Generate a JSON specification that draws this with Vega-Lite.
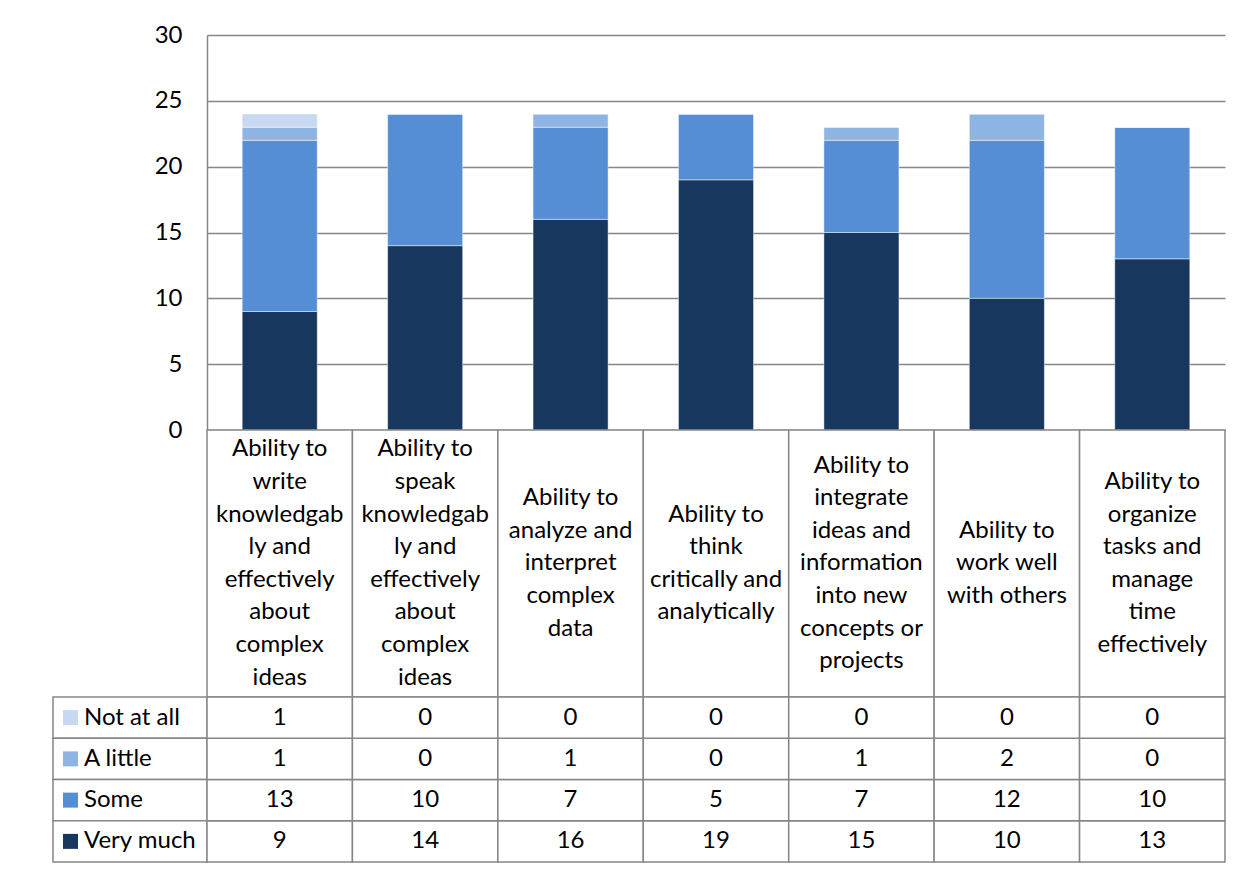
{
  "$schema": "https://vega.github.io/schema/vega-lite/v6.json",
  "autosize": {"type": "pad"},
  "padding": {"left": 52, "top": 23, "right": 26, "bottom": 11},
  "background": "#ffffff",
  "config": {
    "view": {"stroke": null},
    "font": "Lato",
    "text": {"font": "Lato", "fontSize": 24, "color": "#000000"}
  },
  "datasets": {
    "responses": [
      {"skill": "write", "level": "Very much", "score": 4, "count": 9},
      {"skill": "write", "level": "Some", "score": 3, "count": 13},
      {"skill": "write", "level": "A little", "score": 2, "count": 1},
      {"skill": "write", "level": "Not at all", "score": 1, "count": 1},
      {"skill": "speak", "level": "Very much", "score": 4, "count": 14},
      {"skill": "speak", "level": "Some", "score": 3, "count": 10},
      {"skill": "speak", "level": "A little", "score": 2, "count": 0},
      {"skill": "speak", "level": "Not at all", "score": 1, "count": 0},
      {"skill": "analyze", "level": "Very much", "score": 4, "count": 16},
      {"skill": "analyze", "level": "Some", "score": 3, "count": 7},
      {"skill": "analyze", "level": "A little", "score": 2, "count": 1},
      {"skill": "analyze", "level": "Not at all", "score": 1, "count": 0},
      {"skill": "think", "level": "Very much", "score": 4, "count": 19},
      {"skill": "think", "level": "Some", "score": 3, "count": 5},
      {"skill": "think", "level": "A little", "score": 2, "count": 0},
      {"skill": "think", "level": "Not at all", "score": 1, "count": 0},
      {"skill": "integrate", "level": "Very much", "score": 4, "count": 15},
      {"skill": "integrate", "level": "Some", "score": 3, "count": 7},
      {"skill": "integrate", "level": "A little", "score": 2, "count": 1},
      {"skill": "integrate", "level": "Not at all", "score": 1, "count": 0},
      {"skill": "teamwork", "level": "Very much", "score": 4, "count": 10},
      {"skill": "teamwork", "level": "Some", "score": 3, "count": 12},
      {"skill": "teamwork", "level": "A little", "score": 2, "count": 2},
      {"skill": "teamwork", "level": "Not at all", "score": 1, "count": 0},
      {"skill": "organize", "level": "Very much", "score": 4, "count": 13},
      {"skill": "organize", "level": "Some", "score": 3, "count": 10},
      {"skill": "organize", "level": "A little", "score": 2, "count": 0},
      {"skill": "organize", "level": "Not at all", "score": 1, "count": 0}
    ],
    "skills": [
      {"skill": "write", "label": "Ability to\nwrite\nknowledgab\nly and\neffectively\nabout\ncomplex\nideas"},
      {"skill": "speak", "label": "Ability to\nspeak\nknowledgab\nly and\neffectively\nabout\ncomplex\nideas"},
      {"skill": "analyze", "label": "Ability to\nanalyze and\ninterpret\ncomplex\ndata"},
      {"skill": "think", "label": "Ability to\nthink\ncritically and\nanalytically"},
      {"skill": "integrate", "label": "Ability to\nintegrate\nideas and\ninformation\ninto new\nconcepts or\nprojects"},
      {"skill": "teamwork", "label": "Ability to\nwork well\nwith others"},
      {"skill": "organize", "label": "Ability to\norganize\ntasks and\nmanage\ntime\neffectively"}
    ],
    "levels": [
      {"level": "Not at all"},
      {"level": "A little"},
      {"level": "Some"},
      {"level": "Very much"}
    ]
  },
  "columns": 2,
  "spacing": 0,
  "bounds": "flush",
  "concat": [
    {
      "width": 154,
      "height": 395,
      "data": {"values": []},
      "mark": "point"
    },
    {
      "width": 1018,
      "height": 395,
      "data": {"name": "responses"},
      "mark": {"type": "bar", "stroke": "#ffffff", "strokeWidth": 0.75, "strokeOpacity": 0.6},
      "encoding": {
        "x": {
          "field": "skill",
          "type": "nominal",
          "sort": null,
          "scale": {"paddingInner": 0.484, "paddingOuter": 0.242},
          "axis": null
        },
        "y": {
          "field": "count",
          "type": "quantitative",
          "stack": "zero",
          "scale": {"domain": [0, 30], "nice": false},
          "axis": {
            "title": null,
            "values": [0, 5, 10, 15, 20, 25, 30],
            "ticks": false,
            "labelPadding": 25,
            "labelFont": "Lato",
            "labelFontSize": 24,
            "labelColor": "#000000",
            "domainColor": "#868686",
            "domainWidth": 1.5,
            "gridColor": "#868686",
            "gridWidth": 1.5,
            "grid": true
          }
        },
        "color": {
          "field": "level",
          "type": "nominal",
          "scale": {
            "domain": ["Not at all", "A little", "Some", "Very much"],
            "range": ["#C6D9F1", "#8EB4E3", "#558ED5", "#17375E"]
          },
          "legend": null
        },
        "order": {"field": "score", "sort": "descending"}
      }
    },
    {
      "width": 154,
      "height": 267,
      "data": {"values": []},
      "mark": "point"
    },
    {
      "width": 1018,
      "height": 267,
      "data": {"name": "skills"},
      "encoding": {
        "x": {
          "field": "skill",
          "type": "nominal",
          "sort": null,
          "scale": {"paddingInner": 0, "paddingOuter": 0},
          "axis": null
        }
      },
      "layer": [
        {
          "mark": {"type": "rect", "fill": "#ffffff", "stroke": "#868686", "strokeWidth": 1.5},
          "encoding": {
            "y": {"value": 0},
            "y2": {"value": "height"}
          }
        },
        {
          "transform": [{"filter": {"field": "skill", "oneOf": ["write", "speak"]}}],
          "mark": {"type": "text", "align": "center", "baseline": "middle", "lineBreak": "\n", "lineHeight": 32.6, "fontSize": 24},
          "encoding": {"y": {"value": 19.4}, "text": {"field": "label"}}
        },
        {
          "transform": [{"filter": {"field": "skill", "equal": "integrate"}}],
          "mark": {"type": "text", "align": "center", "baseline": "middle", "lineBreak": "\n", "lineHeight": 32.6, "fontSize": 24},
          "encoding": {"y": {"value": 35.7}, "text": {"field": "label"}}
        },
        {
          "transform": [{"filter": {"field": "skill", "equal": "organize"}}],
          "mark": {"type": "text", "align": "center", "baseline": "middle", "lineBreak": "\n", "lineHeight": 32.6, "fontSize": 24},
          "encoding": {"y": {"value": 52}, "text": {"field": "label"}}
        },
        {
          "transform": [{"filter": {"field": "skill", "equal": "analyze"}}],
          "mark": {"type": "text", "align": "center", "baseline": "middle", "lineBreak": "\n", "lineHeight": 32.6, "fontSize": 24},
          "encoding": {"y": {"value": 68.3}, "text": {"field": "label"}}
        },
        {
          "transform": [{"filter": {"field": "skill", "equal": "think"}}],
          "mark": {"type": "text", "align": "center", "baseline": "middle", "lineBreak": "\n", "lineHeight": 32.6, "fontSize": 24},
          "encoding": {"y": {"value": 84.6}, "text": {"field": "label"}}
        },
        {
          "transform": [{"filter": {"field": "skill", "equal": "teamwork"}}],
          "mark": {"type": "text", "align": "center", "baseline": "middle", "lineBreak": "\n", "lineHeight": 32.6, "fontSize": 24},
          "encoding": {"y": {"value": 100.9}, "text": {"field": "label"}}
        }
      ]
    },
    {
      "width": 154,
      "height": 165,
      "data": {"name": "levels"},
      "encoding": {
        "y": {
          "field": "level",
          "type": "nominal",
          "sort": ["Not at all", "A little", "Some", "Very much"],
          "scale": {"paddingInner": 0, "paddingOuter": 0},
          "axis": null
        }
      },
      "layer": [
        {
          "mark": {"type": "rect", "fill": "#ffffff", "stroke": "#868686", "strokeWidth": 1.5},
          "encoding": {
            "x": {"value": 0},
            "x2": {"value": "width"}
          }
        },
        {
          "mark": {"type": "point", "shape": "square", "filled": true, "opacity": 1, "size": 225},
          "encoding": {
            "x": {"value": 17.5},
            "color": {
              "field": "level",
              "type": "nominal",
              "scale": {
                "domain": ["Not at all", "A little", "Some", "Very much"],
                "range": ["#C6D9F1", "#8EB4E3", "#558ED5", "#17375E"]
              },
              "legend": null
            }
          }
        },
        {
          "mark": {"type": "text", "align": "left", "baseline": "middle", "fontSize": 24},
          "encoding": {
            "x": {"value": 31},
            "text": {"field": "level"}
          }
        }
      ]
    },
    {
      "width": 1018,
      "height": 165,
      "data": {"name": "responses"},
      "encoding": {
        "x": {
          "field": "skill",
          "type": "nominal",
          "sort": null,
          "scale": {"paddingInner": 0, "paddingOuter": 0},
          "axis": null
        },
        "y": {
          "field": "level",
          "type": "nominal",
          "sort": ["Not at all", "A little", "Some", "Very much"],
          "scale": {"paddingInner": 0, "paddingOuter": 0},
          "axis": null
        }
      },
      "layer": [
        {
          "mark": {"type": "rect", "fill": "#ffffff", "stroke": "#868686", "strokeWidth": 1.5}
        },
        {
          "mark": {"type": "text", "align": "center", "baseline": "middle", "fontSize": 24},
          "encoding": {
            "text": {"field": "count", "type": "quantitative"}
          }
        }
      ]
    }
  ]
}
